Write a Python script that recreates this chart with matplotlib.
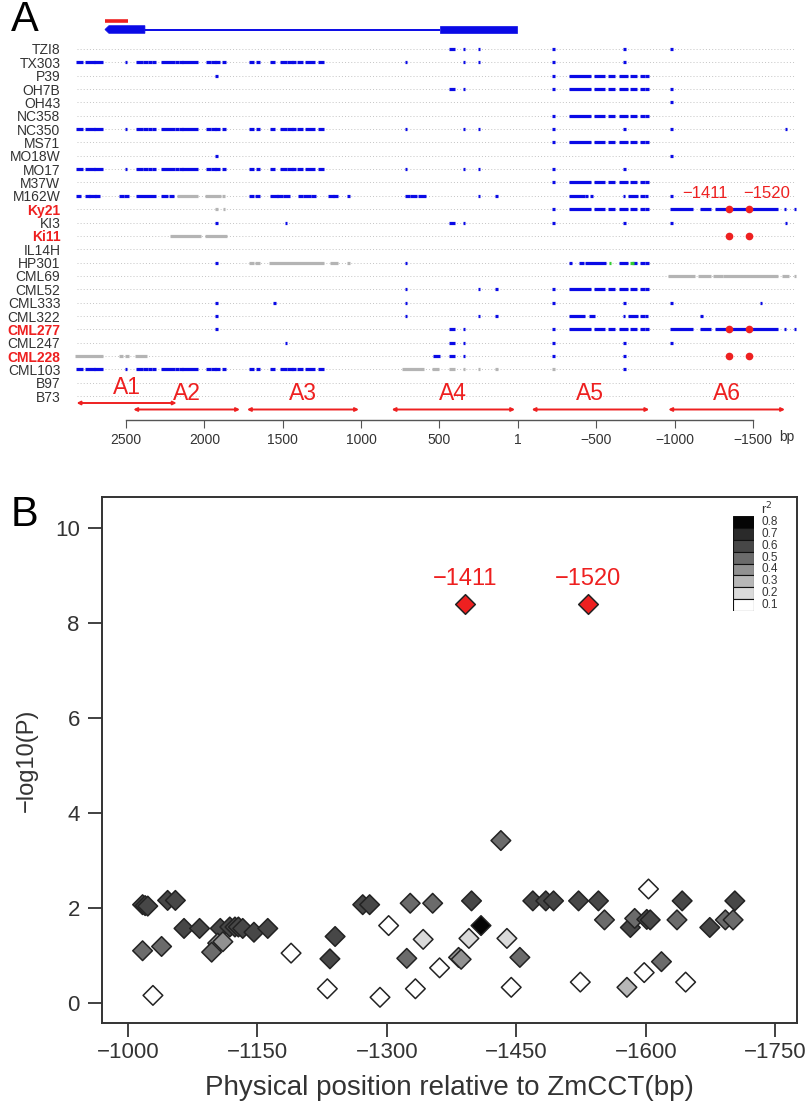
import matplotlib
matplotlib.use('Agg')
import matplotlib.pyplot as plt
from matplotlib.patches import Rectangle, Polygon

plt.rcParams['font.family'] = ['Liberation Sans', 'DejaVu Sans']
plt.rcParams['axes.unicode_minus'] = True

# ------------------------------------------------------------------ data (panel A)
lines = ['TZI8', 'TX303', 'P39', 'OH7B', 'OH43', 'NC358', 'NC350', 'MS71', 'MO18W',
         'MO17', 'M37W', 'M162W', 'Ky21', 'KI3', 'Ki11', 'IL14H', 'HP301', 'CML69',
         'CML52', 'CML333', 'CML322', 'CML277', 'CML247', 'CML228', 'CML103', 'B97', 'B73']
highlight_lines = ['Ky21', 'Ki11', 'CML277', 'CML228']

# variant segments in bp (start, end); single sites have start == end
left_full = [(2808, 2783), (2755, 2709), (2698, 2655), (2500, 2500), (2425, 2400), (2385, 2368),
             (2353, 2345), (2326, 2315), (2266, 2198), (2181, 2173), (2155, 2145), (2132, 2049),
             (1981, 1964), (1947, 1937), (1921, 1911), (1879, 1868), (1709, 1692), (1662, 1651),
             (1570, 1560), (1507, 1479), (1465, 1443), (1433, 1422), (1401, 1379), (1352, 1305),
             (1267, 1245)]
a5_block = [(-226, -226), (-337, -456), (-492, -550), (-583, -609), (-652, -694),
            (-726, -754), (-790, -800), (-817, -828)]
a6_block = [(-981, -1109), (-1173, -1226), (-1268, -1321), (-1375, -1449),
            (-1502, -1651), (-1704, -1704), (-1768, -1768)]
site_pair = [(427, 408), (344, 344)]

blue_sites = {
    'TZI8': site_pair + [(248, 248), (-226, -226), (-679, -679), (-981, -981)],
    'TX303': left_full + [(714, 714), (344, 344), (248, 248), (-226, -226), (-679, -679)],
    'P39': [(1921, 1921)] + a5_block,
    'OH7B': site_pair + a5_block + [(-981, -981)],
    'OH43': [(-981, -981)],
    'NC358': a5_block,
    'NC350': left_full + [(714, 714), (344, 344), (248, 248), (-226, -226), (-679, -679),
                          (-981, -981), (-1711, -1711)],
    'MS71': a5_block,
    'MO18W': [(1921, 1921), (-981, -981)],
    'MO17': left_full + [(714, 714), (344, 344), (248, 248), (-226, -226), (-679, -679)],
    'M37W': a5_block,
    'M162W': [(2808, 2793), (2755, 2740), (2725, 2700), (2690, 2672), (2534, 2520), (2505, 2492),
              (2425, 2315), (2266, 2240), (2215, 2202), (1705, 1690), (1665, 1651), (1570, 1540),
              (1530, 1510), (1490, 1465), (1396, 1380), (1360, 1330), (1310, 1294), (1199, 1185),
              (1170, 1156), (1082, 1082), (714, 700), (680, 650), (630, 592), (248, 248),
              (135, 135), (-337, -420), (-440, -440), (-471, -471), (-677, -677), (-710, -760),
              (-790, -800), (-817, -822), (-981, -981)],
    'Ky21': a5_block + a6_block,
    'KI3': [(1921, 1921), (1479, 1479)] + site_pair + [(-226, -226), (-679, -679), (-981, -981),
                                                       (-1711, -1711)],
    'HP301': [(1921, 1921), (714, 714), (-337, -337), (-396, -410), (-440, -555), (-652, -694),
              (-740, -754), (-790, -800), (-817, -828)],
    'CML52': [(714, 714), (248, 248), (135, 135)] + a5_block,
    'CML333': [(1921, 1921), (1554, 1554), (714, 714), (-226, -226), (-679, -679),
               (-981, -981), (-1551, -1551)],
    'CML322': [(1921, 1921), (714, 714), (248, 248), (135, 135), (-337, -417), (-460, -481),
               (-677, -677), (-710, -760), (-790, -800), (-817, -822), (-1173, -1173)],
    'CML277': [(1921, 1921)] + site_pair + a5_block + a6_block,
    'CML247': [(1479, 1479)] + site_pair + [(-226, -226), (-679, -679), (-981, -981)],
    'CML228': [(535, 508)] + site_pair + [(-226, -226), (-679, -679)],
    'CML103': left_full + [(-679, -679)],
}
gray_sites = {
    'M162W': [(2166, 2049), (1985, 1900), (1879, 1879)],
    'Ky21': [(1921, 1921), (1875, 1875)],
    'Ki11': [(2213, 2028), (1985, 1864)],
    'HP301': [(1709, 1690), (1665, 1651), (1581, 1243), (1188, 1156), (1082, 1082)],
    'CML69': [(-970, -1119), (-1160, -1224), (-1254, -1298), (-1318, -1651), (-1691, -1723),
              (-1768, -1768)],
    'CML228': [(2815, 2655), (2534, 2528), (2500, 2487), (2432, 2374)],
    'CML103': [(727, 605), (541, 510), (427, 408), (344, 344), (248, 248), (135, 135),
               (-226, -226)],
}
green_sites = {
    'HP301': [(-588, -588), (-726, -732)],
}
red_sites = {
    'Ky21': [-1349, -1477],
    'Ki11': [-1349, -1477],
    'CML277': [-1349, -1477],
    'CML228': [-1349, -1477],
}
red_site_labels = ['\u22121411', '\u22121520']

region_names = ['A1', 'A2', 'A3', 'A4', 'A5', 'A6']
region_spans = [(2815, 2177), (2453, 1773), (1728, 1014), (805, 18), (-88, -838), (-960, -1704)]

gene_utr5 = (2634, 2379)     # thick block with arrow (left)
gene_intron = (2379, 497)
gene_exon = (497, 6)
probe_span = (2634, 2485)

xticks_a = [2500, 2000, 1500, 1000, 500, 1, -500, -1000, -1500]

# ------------------------------------------------------------------ data (panel B)
pos_b = [-1017, -1020, -1023, -1046, -1055, -1017, -1039, -1029, -1065, -1083, -1107, -1118,
         -1124, -1128, -1133, -1104, -1110, -1097, -1146, -1162, -1189, -1240, -1234, -1231,
         -1272, -1280, -1302, -1292, -1327, -1353, -1342, -1323, -1333, -1361, -1432, -1398,
         -1409, -1395, -1383, -1386, -1439, -1454, -1444, -1469, -1484, -1493, -1522, -1545,
         -1552, -1524, -1582, -1587, -1601, -1605, -1603, -1578, -1598, -1618, -1642, -1636,
         -1646, -1674, -1703, -1692, -1701]
logp_b = [2.07, 2.05, 2.04, 2.16, 2.16, 1.10, 1.19, 0.16, 1.57, 1.57, 1.57, 1.60,
          1.60, 1.60, 1.57, 1.26, 1.29, 1.07, 1.49, 1.57, 1.05, 1.40, 0.93, 0.30,
          2.07, 2.07, 1.63, 0.12, 2.10, 2.10, 1.34, 0.94, 0.30, 0.74, 3.42, 2.15,
          1.63, 1.36, 0.96, 0.92, 1.36, 0.96, 0.33, 2.15, 2.15, 2.15, 2.15, 2.15,
          1.75, 0.44, 1.59, 1.78, 1.76, 1.75, 2.40, 0.33, 0.64, 0.87, 2.15, 1.75,
          0.44, 1.59, 2.15, 1.75, 1.75]
r2_b = [0.6, 0.6, 0.6, 0.6, 0.6, 0.5, 0.5, 0.1, 0.6, 0.6, 0.6, 0.6,
        0.6, 0.6, 0.6, 0.4, 0.4, 0.5, 0.6, 0.6, 0.1, 0.6, 0.6, 0.1,
        0.6, 0.6, 0.1, 0.1, 0.5, 0.5, 0.2, 0.5, 0.1, 0.1, 0.5, 0.6,
        0.8, 0.2, 0.4, 0.4, 0.2, 0.5, 0.1, 0.6, 0.6, 0.6, 0.6, 0.6,
        0.5, 0.1, 0.6, 0.5, 0.6, 0.6, 0.1, 0.3, 0.1, 0.5, 0.6, 0.5,
        0.1, 0.6, 0.6, 0.5, 0.5]
sig_pos = [-1391, -1533]
sig_logp = [8.4, 8.4]
sig_labels = ['\u22121411', '\u22121520']

r2_levels = [0.8, 0.7, 0.6, 0.5, 0.4, 0.3, 0.2, 0.1]
r2_colors = ['#050505', '#2a2a2a', '#474747', '#6b6b6b', '#919191', '#b7b7b7', '#dadada', '#ffffff']
xticks_b = [-1000, -1150, -1300, -1450, -1600, -1750]
yticks_b = [0, 2, 4, 6, 8, 10]

# ------------------------------------------------------------------ figure
W, H = 810, 1110
fig = plt.figure(figsize=(W / 100, H / 100), dpi=100)


def rect(l, t, r, b):
    return [l / W, 1 - b / H, (r - l) / W, (b - t) / H]


RED = '#ee2020'
BLUE = '#0a0ae6'
GRAY = '#b4b4b4'
GREEN = '#33cc33'

# ---------------- Panel A
axA = fig.add_axes(rect(70, 5, 800, 420))
axA.set_xlim(2857, -1800)
row0_px, row_step = 49.0, 13.35
axA.set_ylim((420 - row0_px) / row_step, (5 - row0_px) / row_step)


def prow(px):
    return (px - row0_px) / row_step


pad = 9
for i, name in enumerate(lines):
    axA.plot([2815, -1768], [i, i], color='#c4c4c4', lw=0.7, ls=(0, (1, 2.2)), zorder=1)
    for store, col in ((gray_sites, GRAY), (blue_sites, BLUE), (green_sites, GREEN)):
        for s, e in store.get(name, []):
            axA.hlines(i, s + pad, e - pad, color=col, lw=2.3, zorder=2)
    if name in red_sites:
        axA.plot(red_sites[name], [i] * len(red_sites[name]), 'o', color=RED, ms=4.5,
                 mec=RED, zorder=3)

# red labels for significant sites
axA.text(-1194, prow(194), red_site_labels[0], color=RED, fontsize=12, ha='center', va='center')
axA.text(-1587, prow(194), red_site_labels[1], color=RED, fontsize=12, ha='center', va='center')

# gene model
ymid = prow(29.5)
half = 3.8 / row_step
axA.plot(gene_intron, [ymid, ymid], color=BLUE, lw=1.4, zorder=2, solid_capstyle='butt')
tip = gene_utr5[0]
shoulder = tip - 25
axA.add_patch(Polygon([(gene_utr5[1], ymid - half), (shoulder, ymid - half), (tip, ymid),
                       (shoulder, ymid + half), (gene_utr5[1], ymid + half)],
                      closed=True, facecolor=BLUE, edgecolor=BLUE, lw=0.5, zorder=3))
axA.add_patch(Rectangle((gene_exon[1], ymid - half), gene_exon[0] - gene_exon[1], 2 * half,
                        facecolor=BLUE, edgecolor=BLUE, lw=0.5, zorder=3))
axA.plot(probe_span, [prow(21), prow(21)], color=RED, lw=2.6, solid_capstyle='butt')

# regions
for k, (nm, (s, e)) in enumerate(zip(region_names, region_spans)):
    y_arr = prow(403) if k == 0 else prow(409.5)
    y_txt = prow(387) if k == 0 else prow(394)
    axA.annotate('', xy=(e, y_arr), xytext=(s, y_arr),
                 arrowprops=dict(arrowstyle='<|-|>', color=RED, lw=1.4, mutation_scale=5,
                                 shrinkA=0, shrinkB=0))
    axA.text((s + e) / 2, y_txt, nm, color=RED, fontsize=16.5, ha='center', va='center')

axA.set_yticks(range(len(lines)))
axA.set_yticklabels(lines, fontsize=10)
for lab in axA.get_yticklabels():
    if lab.get_text() in highlight_lines:
        lab.set_color(RED)
        lab.set_fontweight('bold')
    else:
        lab.set_color('#333333')
axA.tick_params(axis='y', length=0, pad=7)
for sp in ('top', 'right', 'left'):
    axA.spines[sp].set_visible(False)
axA.spines['bottom'].set_bounds(2500, -1500)
axA.spines['bottom'].set_color('#555555')
axA.spines['bottom'].set_linewidth(1.0)
axA.set_xticks(xticks_a)
axA.set_xticklabels([str(t).replace('-', '\u2212') for t in xticks_a], fontsize=10,
                    color='#333333')
axA.tick_params(axis='x', length=6, color='#555555', pad=3)
fig.text(787 / W, 1 - 437 / H, 'bp', fontsize=10, color='#333333', ha='center', va='center')
fig.text(25 / W, 1 - 20 / H, 'A', fontsize=30, ha='center', va='center')

# ---------------- Panel B
axB = fig.add_axes(rect(102, 497, 797, 1023))
axB.set_xlim(-970, -1775)
axB.set_ylim((1003 - 1023) / 47.5, (1003 - 497) / 47.5)
lvl_color = dict(zip(r2_levels, r2_colors))
axB.scatter(pos_b, logp_b, s=100, marker='D', c=[lvl_color[v] for v in r2_b],
            edgecolors='#222222', linewidths=1.1, zorder=3)
axB.scatter(sig_pos, sig_logp, s=100, marker='D', c=RED, edgecolors='#222222',
            linewidths=1.1, zorder=3)
for x, y, t in zip(sig_pos, sig_logp, sig_labels):
    axB.text(x, y + 0.52, t, color=RED, fontsize=17, ha='center', va='center')

axB.set_xticks(xticks_b)
axB.set_yticks(yticks_b)
axB.tick_params(labelsize=16, length=10, width=1.3, color='#333333', labelcolor='#333333')
axB.tick_params(axis='x', pad=4)
axB.tick_params(axis='y', pad=6)
for sp in axB.spines.values():
    sp.set_linewidth(1.4)
    sp.set_color('#333333')
axB.set_xlabel('Physical position relative to ZmCCT(bp)', fontsize=20, color='#333333',
               labelpad=8)
axB.set_ylabel('\u2212log10(P)', fontsize=17, color='#333333', labelpad=12)
fig.text(25 / W, 1 - 515 / H, 'B', fontsize=30, ha='center', va='center')

# r2 legend
axL = fig.add_axes(rect(733, 516, 754, 611))
axL.set_xlim(0, 1)
axL.set_ylim(0, len(r2_levels))
for j, (lv, col) in enumerate(zip(r2_levels, r2_colors)):
    yb = len(r2_levels) - 1 - j
    axL.add_patch(Rectangle((0, yb), 1, 1, facecolor=col, edgecolor='#111111', lw=0.8))
    axL.text(1.35, yb + 0.5, f'{lv:.1f}', fontsize=8.5, color='#333333', va='center', ha='left')
axL.text(1.35, len(r2_levels) + 0.6, 'r$^2$', fontsize=9.5, color='#333333', va='center',
         ha='left')
axL.axis('off')

fig.savefig('out.png', dpi=100)
